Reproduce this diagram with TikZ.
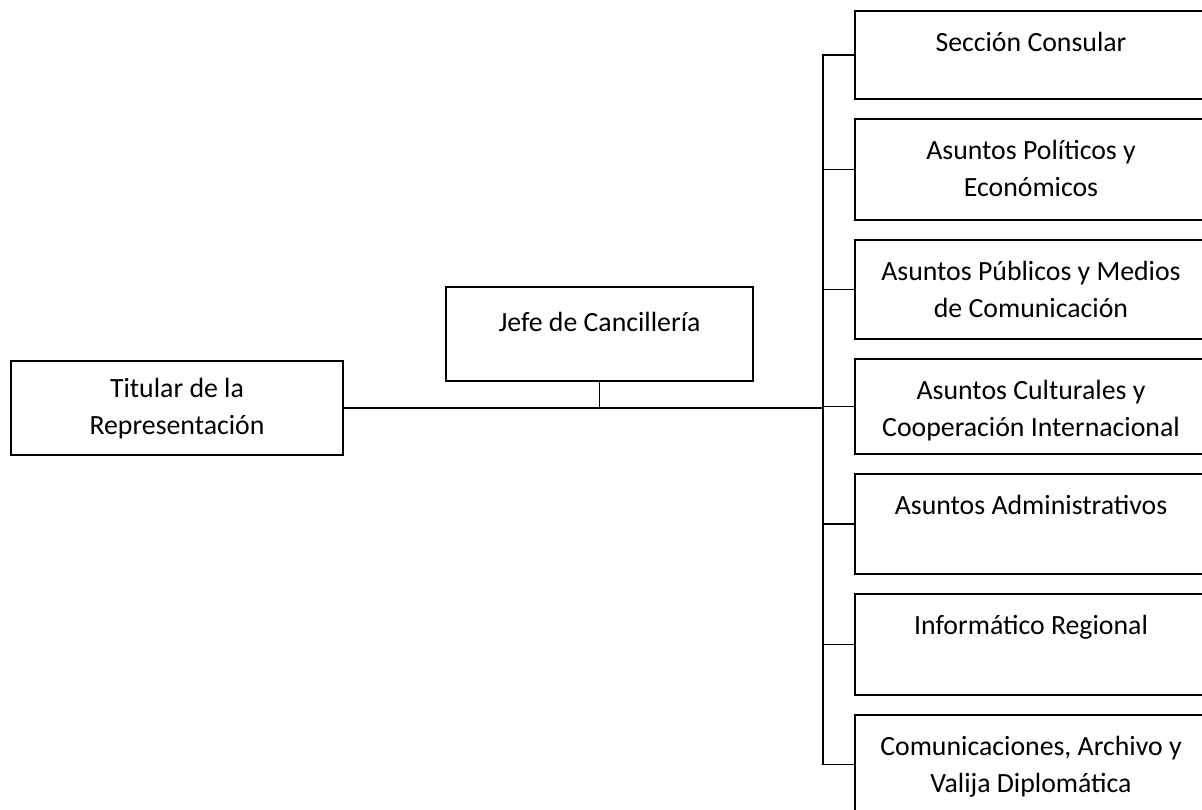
\documentclass[tikz,border=0pt]{standalone}
\usepackage{fontspec}
\setmainfont{Carlito}
\usetikzlibrary{positioning}
\tikzset{
  unit/.style={draw, line width=1.6pt, inner sep=0pt, outer sep=0pt, anchor=north west,
    font=\fontsize{27.8}{37}\selectfont},
  link/.style={line width=1.6pt, line cap=rect},
  node distance=20pt,
}
\newcommand{\unittext}[4]{\parbox[t][#2][t]{#1}{\centering\vspace*{#3}\strut#4}}

\begin{document}
\begin{tikzpicture}[x=1pt,y=-1pt]
  \useasboundingbox (0,0) rectangle (1202,809);
  \clip (0,0) rectangle (1202,809);

  \node[unit] (tit) at (11,361) {\unittext{332pt}{94pt}{11pt}{Titular de la\\Representación}};
  \node[unit] (jefe) at (446,287) {\unittext{307pt}{94pt}{19pt}{Jefe de Cancillería}};

  \node[unit] (sc) at (855,11) {\unittext{352pt}{88pt}{15pt}{Sección Consular}};
  \node[unit,below=of sc] (pol) {\unittext{352pt}{101pt}{15pt}{Asuntos Políticos y\\Económicos}};
  \node[unit,below=of pol] (pub) {\unittext{352pt}{99pt}{15pt}{Asuntos Públicos y Medios\\de Comunicación}};
  \node[unit,below=of pub] (cul) {\unittext{352pt}{95pt}{15pt}{Asuntos Culturales y\\Cooperación Internacional}};
  \node[unit,below=of cul] (adm) {\unittext{352pt}{100pt}{15pt}{Asuntos Administrativos}};
  \node[unit,below=of adm] (inf) {\unittext{352pt}{101pt}{15pt}{Informático Regional}};
  \node[unit,below=of inf] (com) {\unittext{352pt}{99pt}{15pt}{Comunicaciones, Archivo y\\Valija Diplomática}};

  \coordinate (bus) at (823,0);
  \draw[link] (sc.west -| bus) -- (com.west -| bus);
  \foreach \u in {sc,pol,pub,cul,adm,inf,com}
    \draw[link] (\u.west) -- (\u.west -| bus);
  \draw[link] (tit.east) -- (tit.east -| bus);
  \draw[link] (jefe.south) -- (jefe.south |- tit.east);
\end{tikzpicture}
\end{document}
